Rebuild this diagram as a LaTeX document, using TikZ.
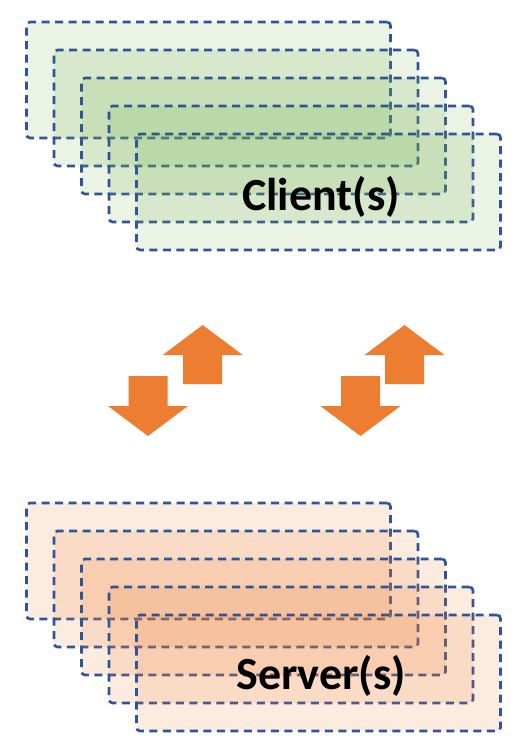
\documentclass[tikz,border=0pt]{standalone}
\usepackage{fontspec}
\setmainfont{Carlito}
\usepackage{tikz}
\usetikzlibrary{arrows}

\definecolor{clientgreen}{HTML}{70AD47}
\definecolor{serverorange}{HTML}{ED7D31}
\definecolor{dashblue}{HTML}{2F5597}

\begin{document}
\begin{tikzpicture}[x=1pt,y=-1pt]
		\tikzstyle{layer}=[draw=dashblue,line width=2.6pt,dash pattern=on 8pt off 5.5pt,rounded corners=3.5pt,fill opacity=0.15,minimum width=364pt,minimum height=116pt,inner sep=0pt]
		\tikzstyle{client}=[layer,fill=clientgreen]
		\tikzstyle{server}=[layer,fill=serverorange]
		\tikzstyle{tag}=[font=\fontsize{46}{52}\selectfont\bfseries,text=black]
		\tikzstyle{blockarrow}=[fill=serverorange]
		\useasboundingbox (0,0) rectangle (531,744);
		% client stack
		\node[client] (c1) at (208.5,80) {};
		\node[client] (c2) at (236,108) {};
		\node[client] (c3) at (263.5,136) {};
		\node[client] (c4) at (291,164) {};
		\node[client] (c5) at (318.5,192) {};
		\node[tag] (clients) at (321,197) {Client(s)};
		% server stack
		\node[server] (s1) at (208.5,561) {};
		\node[server] (s2) at (236,589) {};
		\node[server] (s3) at (263.5,617) {};
		\node[server] (s4) at (291,645) {};
		\node[server] (s5) at (318.5,673) {};
		\node[tag] (servers) at (321,676) {Server(s)};
		% up and down block arrows
		\fill[blockarrow,shift={(202.7,325)}] (0,0) -- (40,30) -- (19.5,30) -- (19.5,59) -- (-19.5,59) -- (-19.5,30) -- (-40,30) -- cycle;
		\fill[blockarrow,shift={(148,436)}] (0,0) -- (40,-30) -- (19.5,-30) -- (19.5,-60) -- (-19.5,-60) -- (-19.5,-30) -- (-40,-30) -- cycle;
		\fill[blockarrow,shift={(404.5,325)}] (0,0) -- (40,30) -- (19.5,30) -- (19.5,59) -- (-19.5,59) -- (-19.5,30) -- (-40,30) -- cycle;
		\fill[blockarrow,shift={(360.5,436)}] (0,0) -- (40,-30) -- (19.5,-30) -- (19.5,-60) -- (-19.5,-60) -- (-19.5,-30) -- (-40,-30) -- cycle;
\end{tikzpicture}
\end{document}
